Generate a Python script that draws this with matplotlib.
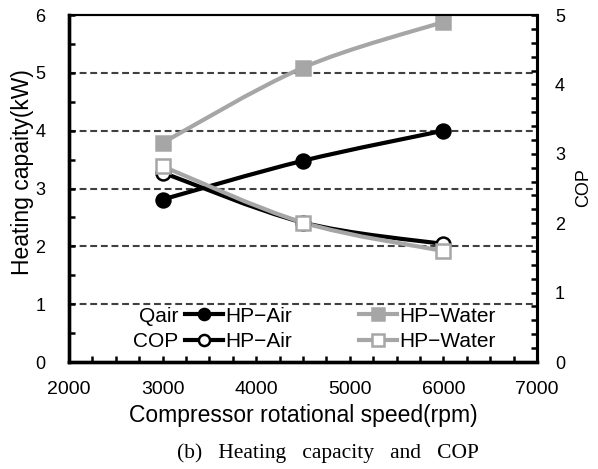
import matplotlib
matplotlib.use('Agg')
import matplotlib.pyplot as plt
import numpy as np
from matplotlib.path import Path
from matplotlib.patches import PathPatch
from matplotlib.lines import Line2D
from matplotlib.ticker import MultipleLocator

plt.rcParams['font.family'] = ['Liberation Sans', 'DejaVu Sans']

speed = [3000, 4500, 6000]
q_air = [2.81, 3.48, 4.0]
q_water = [3.79, 5.09, 5.88]
cop_air = [2.73, 2.01, 1.70]
cop_water = [2.82, 2.01, 1.60]

row_names = ['Qair', 'COP']
labels = ['HP\u2212Air', 'HP\u2212Air', 'HP\u2212Water', 'HP\u2212Water']

BLACK = '#000000'
GRAY = '#a6a6a6'


def smooth_path(xs, ys):
    # catmull-rom style bezier through the points, like excel smoothed lines
    p = np.column_stack([xs, ys]).astype(float)
    pts = np.vstack([p[0], p, p[-1]])
    verts = [tuple(p[0])]
    codes = [Path.MOVETO]
    for i in range(1, len(pts) - 2):
        c1 = pts[i] + (pts[i + 1] - pts[i - 1]) / 6.0
        c2 = pts[i + 1] - (pts[i + 2] - pts[i]) / 6.0
        verts += [tuple(c1), tuple(c2), tuple(pts[i + 1])]
        codes += [Path.CURVE4] * 3
    return Path(verts, codes)


def marker_style(color, marker, filled):
    return dict(marker=marker, markersize=10 if marker == 'o' else 9.5,
                markerfacecolor=color if filled else 'white',
                markeredgecolor=color, markeredgewidth=1.8)


def draw_series(ax, xs, ys, color, marker, filled):
    ax.add_patch(PathPatch(smooth_path(xs, ys), facecolor='none',
                           edgecolor=color, lw=3.0, zorder=3))
    ax.plot(xs, ys, linestyle='none', zorder=4,
            **marker_style(color, marker, filled))


fig = plt.figure(figsize=(5.98, 4.69), dpi=100)
ax = fig.add_axes([0.1154, 0.2281, 0.7826, 0.7399])
ax2 = ax.twinx()

ax.set_xlim(2000, 7000)
ax.set_ylim(0, 6)
ax2.set_ylim(0, 5)

for y in range(1, 6):
    ax.axhline(y, color='#404040', lw=1.5, ls=(0, (3.3, 1.8)), zorder=1)

draw_series(ax, speed, q_air, BLACK, 'o', True)
draw_series(ax, speed, q_water, GRAY, 's', True)
draw_series(ax2, speed, cop_air, BLACK, 'o', False)
draw_series(ax2, speed, cop_water, GRAY, 's', False)

ax.xaxis.set_major_locator(MultipleLocator(1000))
ax.xaxis.set_minor_locator(MultipleLocator(250))
ax.yaxis.set_major_locator(MultipleLocator(1))
ax.yaxis.set_minor_locator(MultipleLocator(0.5))
ax2.yaxis.set_major_locator(MultipleLocator(1))
ax2.yaxis.set_minor_locator(MultipleLocator(0.2))

ax.tick_params(axis='x', which='both', direction='in', top=False,
               labelsize=14, pad=14, length=4, width=1.8)
ax.tick_params(axis='y', which='both', direction='in', right=False,
               labelsize=13, pad=17, length=4, width=1.8)
ax2.tick_params(axis='y', which='both', direction='in',
                labelsize=13, pad=13, length=4, width=1.8)

for a in (ax, ax2):
    a.spines['left'].set_linewidth(2.4)
    a.spines['bottom'].set_linewidth(2.4)
    a.spines['right'].set_linewidth(2.2)
    a.spines['top'].set_linewidth(1.5)

ax.set_xlabel('Compressor rotational speed(rpm)', fontsize=16.5, va='top')
ax.xaxis.set_label_coords(0.5, -0.12)
ax.set_ylabel('Heating capaity(kW)', fontsize=16.5)
ax.yaxis.set_label_coords(-0.075, 0.5476)
ax2.set_ylabel('COP', fontsize=13)
ax2.yaxis.set_label_coords(1.081, 0.504)

handles = [
    Line2D([], [], color=BLACK, lw=3.0, **marker_style(BLACK, 'o', True)),
    Line2D([], [], color=BLACK, lw=3.0, **marker_style(BLACK, 'o', False)),
    Line2D([], [], color=GRAY, lw=3.0, **marker_style(GRAY, 's', True)),
    Line2D([], [], color=GRAY, lw=3.0, **marker_style(GRAY, 's', False)),
]
for h in handles:
    h.set_markersize(8)
leg = ax2.legend(handles, labels, ncol=2, frameon=False, fontsize=15,
                 loc='center left', bbox_to_anchor=(0.248, 0.0954),
                 handlelength=1.83, handletextpad=0.1, columnspacing=3.2,
                 labelspacing=0.3, borderpad=0, borderaxespad=0)

for name, yy in zip(row_names, [0.1326, 0.0585]):
    ax.text(0.233, yy, name, transform=ax.transAxes, fontsize=15,
            ha='right', va='center')

fig.text(0.548, 0.034, '(b)   Heating   capacity   and   COP', fontsize=15.5,
         family=['Liberation Serif', 'DejaVu Serif'], ha='center', va='center')

fig.savefig('out.png', dpi=100)
